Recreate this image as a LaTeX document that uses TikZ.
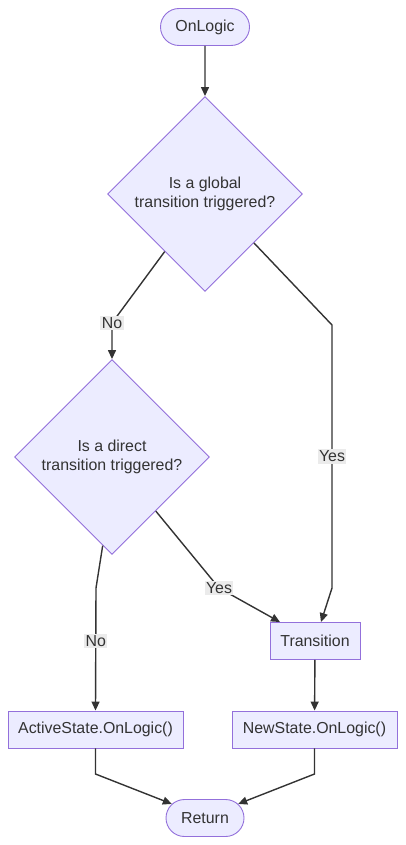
\documentclass[tikz,border=0pt]{standalone}
\usepackage{fontspec}
\setmainfont{Liberation Sans}
\usetikzlibrary{shapes.geometric,shapes.misc,arrows.meta}

\definecolor{nodefill}{HTML}{ECECFF}
\definecolor{nodeline}{HTML}{9370DB}
\definecolor{ink}{HTML}{333333}
\definecolor{labelbg}{HTML}{EBEBEB}

\tikzset{
  box/.style={draw=nodeline, fill=nodefill, text=ink, line width=0.9pt, minimum height=37pt, inner sep=0pt},
  pill/.style={box, rounded rectangle},
  decision/.style={box, diamond, aspect=1, minimum size=195pt, align=center},
  arr/.style={draw=ink, line width=1.4pt, -{Triangle[length=9pt,width=8pt]}},
  edgelabel/.style={fill=labelbg, text=ink, inner sep=1.5pt}
}

\begin{document}
\begin{tikzpicture}[x=1pt, y=-1pt, font=\fontsize{15.9}{19}\selectfont]
\useasboundingbox (0,0) rectangle (405,845);

% Draw nodes
\node[pill, minimum width=89pt] (start) at (205,27) {OnLogic};
\node[decision] (global) at (205,194) {Is a global\\transition triggered?};
\node[decision] (direct) at (112,457) {Is a direct\\transition triggered?};
\node[box, minimum width=90pt] (trans) at (315,641) {Transition};
\node[box, minimum width=175pt] (act) at (95.5,729.5) {ActiveState.OnLogic()};
\node[box, minimum width=165pt] (newst) at (314.5,729.5) {NewState.OnLogic()};
\node[pill, minimum width=78pt] (ret) at (205,818) {Return};

% Bend points
\coordinate (bendNo) at (112,323);
\coordinate (bendYa) at (332,325);
\coordinate (bendYb) at (332,588);
\coordinate (bendYc) at (219,588);
\coordinate (bendNb) at (96,588);
\coordinate (joinA) at (95.5,774);
\coordinate (joinB) at (314.5,774);

% Draw connectors
\draw[arr] (start) -- (global);
\draw[arr] (global.-125) -- (bendNo) node[edgelabel] {No} -- (direct.north);
\draw[arr] (global.-45) -- (bendYa) -- node[edgelabel] {Yes} (bendYb) -- ([xshift=6pt]trans.north);
\draw[arr] (direct.-51) -- (bendYc) node[edgelabel] {Yes} -- ([xshift=-35pt]trans.north);
\draw[arr] (direct.-96) -- (bendNb) -- node[edgelabel, pos=0.43] {No} (act.north);
\draw[arr] (trans) -- (newst);
\draw[arr] (act.south) -- (joinA) -- (ret.157);
\draw[arr] (newst.south) -- (joinB) -- (ret.23);

\end{tikzpicture}
\end{document}
